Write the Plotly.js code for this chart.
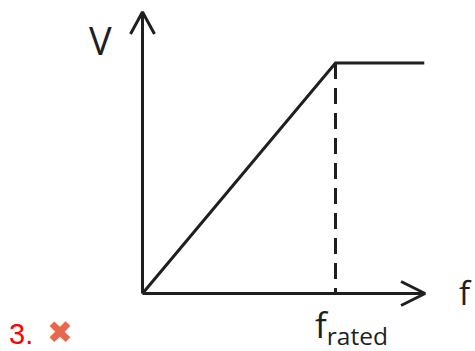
<!DOCTYPE html>
<html>
<head>
<meta charset="utf-8">
<script src="https://cdn.plot.ly/plotly-3.0.1.min.js"></script>
<style>html,body{margin:0;padding:0;background:#fff;}#chart{width:475px;height:351px;}</style>
</head>
<body>
<div id="chart"></div>
<script>
// ---- data (normalised: rated frequency = 1, rated voltage = 1) ----
const curveF = [0, 1, 1.46];
const curveV = [0, 1, 1];
const ratedF = 1;
const ratedV = 1;
const fAxisEnd = 1.464;
const vAxisEnd = 1.221;
const vAxisLabel = 'V';
const fAxisLabel = 'f';
const ratedLabel = 'f<sub>rated</sub>';
const itemNumber = '3.';
const itemMark = '\u2716';

// ---- scales (pixels per data unit) ----
const W = 475, H = 351;
const originPx = [142.5, 293.5];
const pxPerF = 193, pxPerV = 230.5;
const xRange = [-originPx[0] / pxPerF, (W - originPx[0]) / pxPerF];
const yRange = [(originPx[1] - H) / pxPerV, originPx[1] / pxPerV];

const ink = '#1f1f1f';
const lw = 3;
// arrow head sizes in pixels, converted to data units
const headLen = 24, headHalf = 12;
const xHead = {
  x: [fAxisEnd - headLen / pxPerF, fAxisEnd, fAxisEnd - headLen / pxPerF],
  y: [headHalf / pxPerV, 0, -headHalf / pxPerV]
};
const yHead = {
  x: [-headHalf / pxPerF, 0, headHalf / pxPerF],
  y: [vAxisEnd - 22 / pxPerV, vAxisEnd, vAxisEnd - 22 / pxPerV]
};

const lineStyle = {color: ink, width: lw};
const traces = [
  {x: [0, fAxisEnd], y: [0, 0], mode: 'lines', line: lineStyle},
  {x: [0, 0], y: [0, vAxisEnd], mode: 'lines', line: lineStyle},
  {x: xHead.x, y: xHead.y, mode: 'lines', line: lineStyle},
  {x: yHead.x, y: yHead.y, mode: 'lines', line: lineStyle},
  {x: curveF, y: curveV, mode: 'lines', line: lineStyle},
  {x: [ratedF, ratedF], y: [ratedV, 0], mode: 'lines', line: {color: ink, width: lw, dash: '16px,9px'}}
];

const font = 'Open Sans, Noto Sans, sans-serif';
const px = v => v / W, py = v => 1 - v / H;
const layout = {
  width: W, height: H,
  margin: {l: 0, r: 0, t: 0, b: 0, pad: 0},
  paper_bgcolor: '#fff', plot_bgcolor: '#fff',
  showlegend: false,
  xaxis: {range: xRange, visible: false, fixedrange: true},
  yaxis: {range: yRange, visible: false, fixedrange: true},
  annotations: [
    {text: vAxisLabel, xref: 'paper', yref: 'paper', x: px(100), y: py(40), xanchor: 'center', yanchor: 'middle', showarrow: false, font: {family: font, size: 38, color: ink}},
    {text: fAxisLabel, xref: 'paper', yref: 'paper', x: px(465), y: py(292), xanchor: 'center', yanchor: 'middle', showarrow: false, font: {family: font, size: 33, color: ink}},
    {text: ratedLabel, xref: 'paper', yref: 'paper', x: px(313), y: py(326), xanchor: 'left', yanchor: 'middle', showarrow: false, font: {family: font, size: 35, color: ink}},
    {text: itemNumber, xref: 'paper', yref: 'paper', x: px(8), y: py(351), xanchor: 'left', yanchor: 'bottom', borderpad: 0, showarrow: false, font: {family: 'Liberation Sans, Arimo, sans-serif', size: 29, color: '#ff0000'}},
    {text: itemMark, xref: 'paper', yref: 'paper', x: px(60), y: py(332), xanchor: 'center', yanchor: 'middle', borderpad: 0, showarrow: false, font: {family: 'DejaVu Sans, sans-serif', size: 31, color: '#e8674f'}}
  ]
};

Plotly.newPlot('chart', traces, layout, {displayModeBar: false, staticPlot: true});
</script>
</body>
</html>
